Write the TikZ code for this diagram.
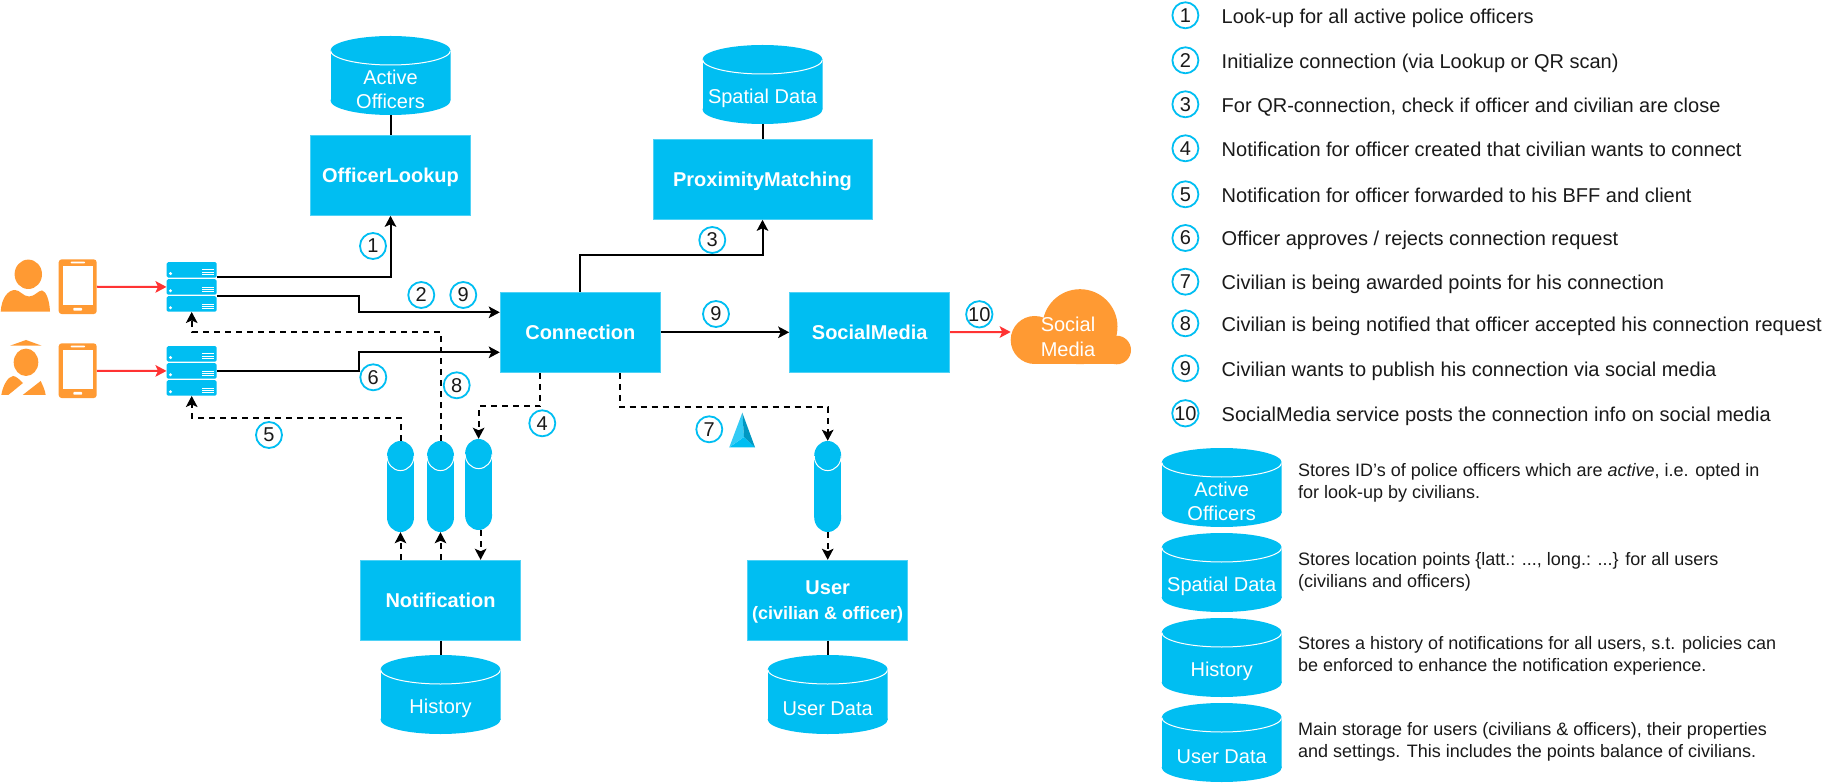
\documentclass[tikz,border=0pt]{standalone}
\usepackage{fontspec}
\setmainfont{Liberation Sans}
\usetikzlibrary{positioning}
\usetikzlibrary{arrows.meta}

\definecolor{svcblue}{HTML}{00BEF2}
\definecolor{svcedge}{HTML}{4FD2F6}
\definecolor{usrorange}{HTML}{FF9A33}
\definecolor{reqred}{HTML}{FF3333}
\definecolor{inktext}{HTML}{1A1A1A}

\tikzset{
  service/.style={rectangle, fill=svcblue, draw=svcedge, line width=1pt, text=white, align=center,
    minimum width=160pt, minimum height=80pt, inner sep=0pt, text depth=0pt,
    font=\fontsize{20}{26}\selectfont\bfseries},
  tank/.style n args={2}{rectangle, inner sep=0pt, minimum width=2*#1 pt,
    path picture={
      \coordinate (tanktop) at (path picture bounding box.north);
      \coordinate (tankbot) at (path picture bounding box.south);
      \fill[svcblue] ([yshift=-#2 pt]tanktop) ellipse [x radius=#1 pt, y radius=#2 pt];
      \fill[svcblue] ([yshift=#2 pt]tankbot) ellipse [x radius=#1 pt, y radius=#2 pt];
      \fill[svcblue] ([xshift=-#1 pt,yshift=-#2 pt]tanktop) rectangle ([xshift=#1 pt,yshift=#2 pt]tankbot);
      \draw[white, line width=1pt] ([xshift=-#1 pt,yshift=-#2 pt]tanktop) arc [start angle=180, end angle=360, x radius=#1 pt, y radius=#2 pt];
    }},
  dbase/.style={tank={60}{14.5}, minimum height=79pt},
  dblabel/.style={text=white, align=center, yshift=-14pt, inner sep=0pt,
    font=\fontsize{20}{24.5}\selectfont},
  queue/.style={tank={13.5}{14.8}, minimum height=91pt},
  badge/.style={circle, draw=svcblue, line width=1.8pt, minimum size=26pt, inner sep=0pt, text=inktext,
    font=\fontsize{20}{20}\selectfont},
  srvrow/.style={rectangle, rounded corners=1.5pt, fill=svcblue, minimum width=50pt, minimum height=15.5pt, inner sep=0pt},
  phone/.style={rectangle, rounded corners=3pt, fill=usrorange, minimum width=38pt, minimum height=54.7pt, inner sep=0pt},
  flow/.style={-{Stealth[length=11pt,width=11.5pt,inset=2.5pt]}, line width=2pt},
  flowdash/.style={flow, dash pattern=on 6pt off 5pt},
  reqflow/.style={-{Stealth[length=11pt,width=11.5pt,inset=2.5pt]}, line width=2pt, reqred},
  link/.style={line width=2pt},
  legtext/.style={anchor=base west, inner sep=0pt, text=inktext, font=\fontsize{20}{24}\selectfont},
  desctext/.style={anchor=west, inner sep=0pt, align=left, text=inktext, font=\fontsize{18}{21.7}\selectfont}
}

\begin{document}
\begin{tikzpicture}[x=1pt,y=-1pt]
  \path[use as bounding box, fill=white] (0,0) rectangle (1834,783);

  % Services
  \node[service] (lookup) at (390.5,175.3) {OfficerLookup};
  \node[service, minimum width=219pt] (prox) at (762.5,179.3) {ProximityMatching};
  \node[service] (conn) at (580.3,332.3) {Connection};
  \node[service] (social) at (869.7,332.3) {SocialMedia};
  \node[service] (notif) at (440.5,600.3) {Notification};
  \node[service] (user) at (827.7,600.3) {User\\[-1pt]{\fontsize{18}{22}\selectfont (civilian \& officer)}};

  % Databases
  \node[dbase, label={[dblabel]center:Active\\Officers}] (actdb) at (390.5,75.5) {};
  \node[dbase, label={[dblabel]center:Spatial Data}] (spatdb) at (762.5,84.5) {};
  \node[dbase, label={[dblabel]center:History}] (histdb) at (440.5,694.5) {};
  \node[dbase, label={[dblabel]center:User Data}] (userdb) at (827.7,694.5) {};

  % Queues
  \node[queue] (qa) at (400.5,486.5) {};
  \node[queue] (qb) at (440.5,486.5) {};
  \node[queue] (qc) at (478.6,484.5) {};
  \node[queue] (qd) at (827.7,486.5) {};

  % Servers
  \node[srvrow] (srvA1) at (191.7,269.8) {};
  \node[srvrow] (srvA2) at (191.7,287) {};
  \node[srvrow] (srvA3) at (191.7,304) {};
  \node[srvrow] (srvB1) at (191.7,353.8) {};
  \node[srvrow] (srvB2) at (191.7,371) {};
  \node[srvrow] (srvB3) at (191.7,388) {};
  \foreach \s in {srvA1,srvA2,srvA3,srvB1,srvB2,srvB3} {
    \fill[white] ([xshift=4pt,yshift=-11.7pt]\s.north west) circle (1.7pt);
    \foreach \d in {8,10.3,12.6}
      \draw[white, line width=0.8pt] ([xshift=-14.7pt,yshift=-\d pt]\s.north east) -- ++(11.3,0);
  }

  % Phones
  \node[phone] (phoneA) at (77.7,286.7) {};
  \node[phone] (phoneB) at (77.7,370.7) {};
  \foreach \p in {phoneA,phoneB} {
    \fill[white] ([xshift=-15pt,yshift=21pt]\p.center) rectangle ([xshift=15.3pt,yshift=-18.5pt]\p.center);
    \fill[white, rounded corners=0.7pt] ([xshift=-7pt,yshift=25pt]\p.center) rectangle ([xshift=7.3pt,yshift=23.4pt]\p.center);
    \fill[white, rounded corners=0.7pt] ([xshift=-4.4pt,yshift=-21.3pt]\p.center) rectangle ([xshift=4.3pt,yshift=-24pt]\p.center);
  }

  % Users
  \fill[usrorange] (28.3,274.3) ellipse [x radius=13.7, y radius=14.7];
  \fill[usrorange] (0.7,311.7) .. controls (1.5,298) and (8,290) .. (15,290)
    .. controls (20,290) and (23,296.5) .. (29,296.5)
    .. controls (35,296.5) and (38,290.5) .. (42,290.5)
    .. controls (46,291) and (49.5,300) .. (50,311.7) -- cycle;
  \fill[usrorange] (10,345.7) -- (26,340) -- (41.7,345.7) -- cycle;
  \fill[usrorange] (26,362.3) ellipse [x radius=12.3, y radius=13.7];
  \fill[usrorange] (1.3,395) .. controls (3,385) and (8,376.7) .. (13,376) .. controls (16,376) and (20,380) .. (23,383) -- (8.3,395) -- cycle;
  \fill[usrorange] (22.7,395) -- (40.7,381) .. controls (43,386) and (45,390) .. (45.7,395) -- cycle;

  % Cloud
  \fill[usrorange] (1080,326.7) circle (37.5);
  \fill[usrorange] (1034.7,340) circle (24);
  \fill[usrorange] (1116.7,350) circle (14.3);
  \fill[usrorange] (1034.7,340) rectangle (1116.7,364.3);
  \node[text=white, align=center, inner sep=0pt, font=\fontsize{20}{24.5}\selectfont] (cloudtxt) at (1068,337) {Social\\Media};
  \coordinate (cloudin) at (1010.7,332);

  % Broker icon
  \fill[svcblue] (729.3,447.3) -- (744,437) -- (755,447.3) -- cycle;
  \fill[svcblue!80!white] (742.3,412.7) -- (729.3,447.3) -- (744,437) -- cycle;
  \fill[svcblue!80!black] (742.3,412.7) -- (755,447.3) -- (744,437) -- cycle;

  % Edges
  \draw[reqflow] (phoneA) -- (srvA2);
  \draw[reqflow] (phoneB) -- (srvB2);
  \draw[reqflow] (social) -- (cloudin);
  \draw[link] (actdb) -- (lookup);
  \draw[link] (spatdb) -- (prox);
  \draw[link] (notif) -- (histdb);
  \draw[link] (user) -- (userdb);
  \draw[flow] ([yshift=1pt]srvA1.south east) -| (lookup.south);
  \draw[flow] ([yshift=-0.3pt]srvA3.north east) -- ++(141.6,0) |- ([yshift=20pt]conn.west);
  \draw[flow] (srvB2.east) -- ++(141.6,0) |- ([yshift=-20pt]conn.west);
  \draw[flow] (conn.north) -- ++(0,-36.3) -| (prox.south);
  \draw[flow] (conn) -- (social);
  \draw[flowdash] (qa.north) -- ++(0,-23) -| (srvB3.south);
  \draw[flowdash] (qb.north) -- ++(0,-109) -| (srvA3.south);
  \draw[flowdash] ([xshift=-40pt]conn.south) -- ++(0,33.5) -| (qc.north);
  \draw[flowdash] ([xshift=40pt]conn.south) -- ++(0,34.7) -| (qd.north);
  \draw[flowdash] (notif.north -| qa.south) -- (qa.south);
  \draw[flowdash] (notif.north) -- (qb.south);
  \draw[flowdash] ([xshift=2pt]qc.south) -- ([xshift=2pt]notif.north -| qc.south);
  \draw[flowdash] (qd.south) -- (user.north);

  % Step numbers
  \node[badge] (b1) at (373,246) {1};
  \node[badge] (b2) at (421.3,295) {2};
  \node[badge] (b9a) at (463.3,295) {9};
  \node[badge] (b3) at (712.3,240) {3};
  \node[badge] (b9b) at (716,314) {9};
  \node[badge] (b10) at (979.3,314.3) {10};
  \node[badge] (b6) at (373.3,377.3) {6};
  \node[badge] (b8) at (456.7,385.3) {8};
  \node[badge] (b4) at (542.3,423.3) {4};
  \node[badge] (b7) at (709.3,429.3) {7};
  \node[badge] (b5) at (269,435) {5};

  % Legend
  \foreach \n/\y/\txt in {
    1/15.3/{Look-up for all active police officers},
    2/60.3/{Initialize connection (via Lookup or QR scan)},
    3/104.3/{For QR-connection, check if officer and civilian are close},
    4/148.3/{Notification for officer created that civilian wants to connect},
    5/194.3/{Notification for officer forwarded to his BFF and client},
    6/238/{Officer approves / rejects connection request},
    7/281.7/{Civilian is being awarded points for his connection},
    8/323.3/{Civilian is being notified that officer accepted his connection request},
    9/368.3/{Civilian wants to publish his connection via social media},
    10/413.3/{SocialMedia service posts the connection info on social media}} {
    \node[badge] (lb\n) at (1185.4,\y) {\n};
    \node[legtext] (lt\n) at (1221.5,\y+8) {\txt};
  }
  \node[dbase, label={[dblabel]center:Active\\Officers}] (legact) at (1221.7,487.5) {};
  \node[dbase, label={[dblabel]center:Spatial Data}] (legspat) at (1221.7,572.5) {};
  \node[dbase, label={[dblabel]center:History}] (leghist) at (1221.7,657.5) {};
  \node[dbase, label={[dblabel]center:User Data}] (leguser) at (1221.7,742.5) {};
  \node[desctext] (dact) at (1298,482.5) {Stores ID's of police officers which are \textit{active}, i.e. opted in\\for look-up by civilians.};
  \node[desctext] (dspat) at (1298,572) {Stores location points \{latt.: ..., long.: ...\} for all users\\(civilians and officers)};
  \node[desctext] (dhist) at (1298,656) {Stores a history of notifications for all users, s.t. policies can\\be enforced to enhance the notification experience.};
  \node[desctext] (duser) at (1298,742) {Main storage for users (civilians \& officers), their properties\\and settings. This includes the points balance of civilians.};
\end{tikzpicture}
\end{document}
